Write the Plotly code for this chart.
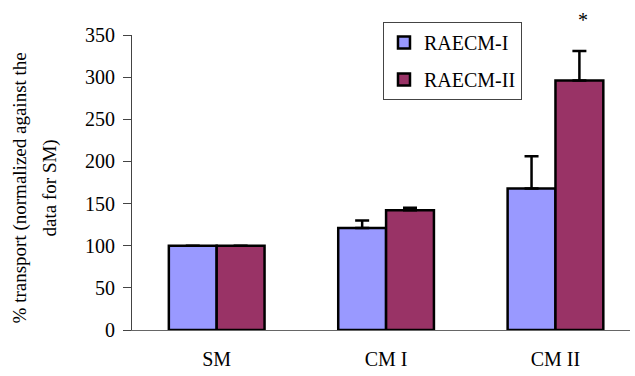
import plotly.graph_objects as go

# Transport data, normalized against SM (%)
categories = ["SM", "CM I", "CM II"]
raecm_i = [100, 121, 168]
raecm_i_err = [0, 9, 38]
raecm_ii = [100, 142, 296]
raecm_ii_err = [0, 3, 35]
y_ticks = [0, 50, 100, 150, 200, 250, 300, 350]

FONT = "Times New Roman, Liberation Serif, serif"

fig = go.Figure()
fig.add_trace(go.Bar(
    name="RAECM-I", x=categories, y=raecm_i, legendgroup="a",
    marker=dict(color="#9999FF", line=dict(color="black", width=2.5)),
    error_y=dict(type="data", symmetric=False, array=raecm_i_err,
                 arrayminus=[0] * len(raecm_i_err),
                 color="black", thickness=2.5, width=7),
))
fig.add_trace(go.Bar(
    name="RAECM-II", x=categories, y=raecm_ii, legendgroup="b",
    marker=dict(color="#993366", line=dict(color="black", width=2.5)),
    error_y=dict(type="data", symmetric=False, array=raecm_ii_err,
                 arrayminus=[0] * len(raecm_ii_err),
                 color="black", thickness=2.5, width=7),
))

# significance marker above CM II / RAECM-II
fig.add_annotation(x=2, y=raecm_ii[2] + raecm_ii_err[2], xshift=28,
                   text="*", showarrow=False, yanchor="bottom", yshift=18,
                   font=dict(family=FONT, size=20, color="black"))

# y-axis title (two lines)
fig.add_annotation(xref="paper", yref="paper", x=0, y=0.48, xshift=-112,
                   xanchor="center", yanchor="middle",
                   text="% transport (normalized against the", textangle=-90,
                   showarrow=False, font=dict(family=FONT, size=19, color="black"))
fig.add_annotation(xref="paper", yref="paper", x=0, y=0.48, xshift=-82,
                   xanchor="center", yanchor="middle",
                   text="data for SM)", textangle=-90,
                   showarrow=False, font=dict(family=FONT, size=19, color="black"))

fig.update_layout(
    width=635, height=376,
    margin=dict(l=132, r=5, t=35, b=46),
    paper_bgcolor="white", plot_bgcolor="white",
    barmode="group", bargap=0.435, bargroupgap=0,
    font=dict(family=FONT, size=20, color="black"),
    showlegend=True,
    legend=dict(x=0.504, y=1.044, xanchor="left", yanchor="top",
                bordercolor="#444", borderwidth=1, bgcolor="white",
                traceorder="grouped", tracegroupgap=8,
                font=dict(family=FONT, size=20, color="black")),
    xaxis=dict(range=[-0.5, 2.44], showline=True, linecolor="#666", linewidth=1,
               ticks="", showgrid=False, ticklabelstandoff=11, automargin=False,
               tickfont=dict(family=FONT, size=20)),
    yaxis=dict(range=[0, 350], tickvals=y_ticks, showline=True,
               linecolor="#444", linewidth=1, ticks="outside", ticklen=8,
               tickcolor="#444", showgrid=False, zeroline=False, automargin=False,
               ticklabelstandoff=4, tickfont=dict(family=FONT, size=20)),
)

fig.write_html("out.html")
